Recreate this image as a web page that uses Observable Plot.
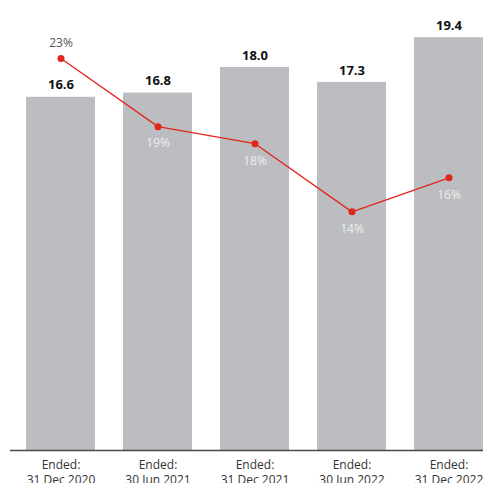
<!DOCTYPE html>
<html><head><meta charset="utf-8">
<script src="https://cdn.jsdelivr.net/npm/d3@7"></script>
<script src="https://cdn.jsdelivr.net/npm/@observablehq/plot@0.6"></script>
<style>
body{margin:0;background:#fff;}
#chart svg{display:block;font-family:"Open Sans",sans-serif;}
</style>
</head><body><div id="chart"></div>
<script>
const categories = ["Ended:\n31 Dec 2020","Ended:\n30 Jun 2021","Ended:\n31 Dec 2021","Ended:\n30 Jun 2022","Ended:\n31 Dec 2022"];
const barValues = [16.6, 16.8, 18.0, 17.3, 19.4];
const pctValues = [23, 19, 18, 14, 16];

const yMax = 21.15;     // bar axis top
const pctMax = 26.4;    // percentage axis top (shared zero)
const k = yMax / pctMax;

const data = categories.map((c, i) => ({cat: c, value: barValues[i], pct: pctValues[i], py: pctValues[i] * k}));

const chart = Plot.plot({
  width: 483, height: 483,
  marginTop: 0, marginBottom: 33, marginLeft: 10, marginRight: 0,
  x: {domain: categories, paddingInner: 0.29, paddingOuter: 0.076, align: 1, label: null},
  y: {domain: [0, yMax], axis: null},
  marks: [
    Plot.barY(data, {x: "cat", y: "value", fill: "#bcbdc0"}),
    Plot.ruleY([0], {stroke: "#4a4a4a", strokeWidth: 1.5}),
    Plot.text(data, {x: "cat", y: "value", text: d => d.value.toFixed(1), dy: -12, fontSize: 13, fontWeight: "bold", fill: "#111"}),
    Plot.line(data, {x: "cat", y: "py", stroke: "#e1261c", strokeWidth: 1.3}),
    Plot.dot(data, {x: "cat", y: "py", r: 3.5, fill: "#e1261c"}),
    Plot.text(data.filter(d => d.py > d.value), {x: "cat", y: "py", text: d => d.pct + "%", dy: -15, fontSize: 12, fill: "#555"}),
    Plot.text(data.filter(d => d.py <= d.value), {x: "cat", y: "py", text: d => d.pct + "%", dy: 17, fontSize: 12, fill: "#ededed"}),
    Plot.axisX({tickSize: 0, tickPadding: 8, fontSize: 12, lineHeight: 1.25, color: "#333", label: null})
  ]
});
document.getElementById("chart").append(chart);
</script>
</body></html>
